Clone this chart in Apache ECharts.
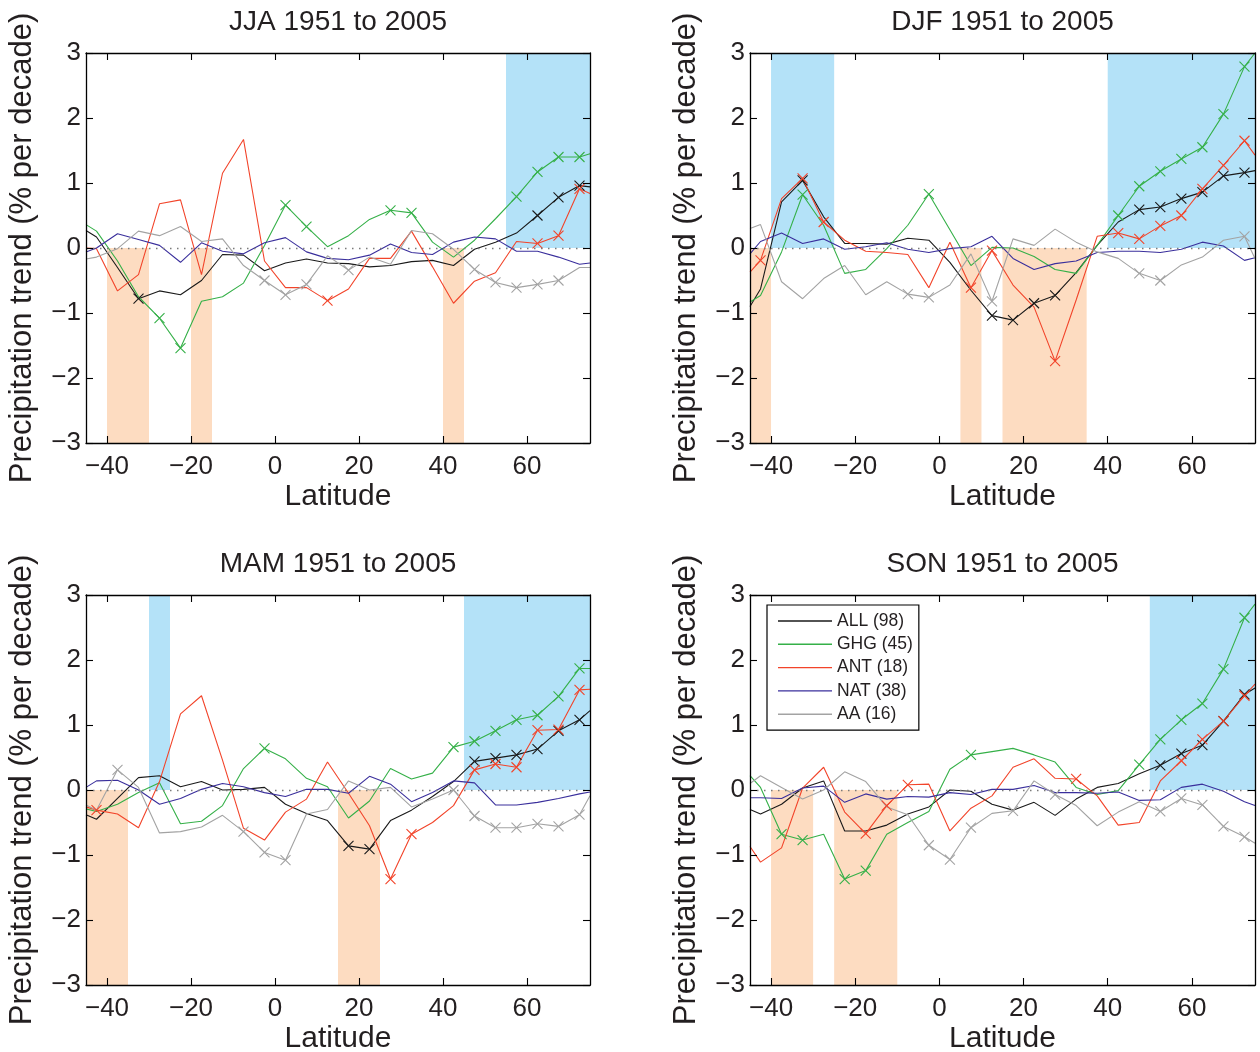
<!DOCTYPE html>
<html>
<head>
<meta charset="utf-8">
<script src="https://cdn.jsdelivr.net/npm/echarts@6/dist/echarts.min.js"></script>
<style>html,body{margin:0;padding:0;background:#fff}#c{width:1260px;height:1052px}</style>
</head>
<body>
<div id="c"></div>
<script>
// Latitude positions (edge points at -45 and 75 are where the lines meet the frame)
const LATS = [-45, -42.5, -37.5, -32.5, -27.5, -22.5, -17.5, -12.5, -7.5, -2.5, 2.5, 7.5, 12.5,
  17.5, 22.5, 27.5, 32.5, 37.5, 42.5, 47.5, 52.5, 57.5, 62.5, 67.5, 72.5, 75];
const X_TICKS = [-40, -20, 0, 20, 40, 60];
const Y_TICKS = [-3, -2, -1, 0, 1, 2, 3];
const SERIES_NAMES = ['ALL (98)', 'GHG (45)', 'ANT (18)', 'NAT (38)', 'AA (16)'];
const PANEL_TITLES = ['JJA 1951 to 2005', 'DJF 1951 to 2005', 'MAM 1951 to 2005', 'SON 1951 to 2005'];

// ---- JJA ----
const JJA_ALL = [0.27, 0.17, -0.30, -0.78, -0.66, -0.72, -0.50, -0.10, -0.11, -0.35, -0.23, -0.17, -0.23, -0.24, -0.29, -0.27, -0.21, -0.19, -0.27, -0.02, 0.09, 0.23, 0.50, 0.78, 0.96, 0.94];
const JJA_GHG = [0.36, 0.26, -0.20, -0.75, -1.08, -1.54, -0.82, -0.75, -0.54, 0.04, 0.66, 0.33, 0.02, 0.19, 0.44, 0.58, 0.54, 0.09, -0.14, 0.12, 0.45, 0.79, 1.17, 1.40, 1.40, 1.45];
const JJA_ANT = [0.00, -0.01, -0.66, -0.41, 0.68, 0.74, -0.41, 1.15, 1.67, -0.20, -0.61, -0.61, -0.81, -0.63, -0.16, -0.16, 0.26, -0.29, -0.85, -0.51, -0.38, 0.10, 0.07, 0.19, 0.91, 0.84];
const JJA_NAT = [-0.06, 0.00, 0.22, 0.13, 0.04, -0.22, 0.08, -0.05, -0.09, 0.08, 0.16, -0.06, -0.16, -0.18, -0.11, 0.06, -0.07, -0.10, 0.09, 0.17, 0.14, -0.05, -0.05, -0.14, -0.25, -0.23];
const JJA_AA  = [-0.17, -0.14, -0.01, 0.26, 0.19, 0.33, 0.10, 0.14, -0.27, -0.50, -0.72, -0.56, -0.12, -0.34, -0.14, -0.25, 0.27, 0.22, -0.02, -0.33, -0.53, -0.61, -0.56, -0.50, -0.30, -0.30];
const JJA_SIG = [[-32.5, 62.5, 67.5, 72.5], [-27.5, -22.5, 2.5, 7.5, 27.5, 32.5, 57.5, 62.5, 67.5, 72.5], [12.5, 62.5, 67.5, 72.5], [], [-2.5, 2.5, 7.5, 17.5, 47.5, 52.5, 57.5, 62.5, 67.5]];
const JJA_DRY = [[-40, -30], [-20, -15], [40, 45]];
const JJA_WET = [[55, 75]];

// ---- DJF ----
const DJF_ALL = [-0.90, -0.63, 0.71, 1.04, 0.48, 0.07, 0.07, 0.06, 0.15, 0.12, -0.22, -0.65, -1.04, -1.11, -0.85, -0.73, -0.38, 0.04, 0.40, 0.59, 0.63, 0.76, 0.86, 1.11, 1.16, 1.19];
const DJF_GHG = [-0.83, -0.73, -0.06, 0.82, 0.35, -0.39, -0.33, -0.01, 0.35, 0.83, 0.28, -0.27, 0.01, 0.00, -0.13, -0.33, -0.39, 0.04, 0.50, 0.95, 1.18, 1.37, 1.55, 2.06, 2.79, 3.00];
const DJF_ANT = [-0.37, -0.19, 0.76, 1.07, 0.40, 0.12, -0.05, -0.07, -0.10, -0.61, 0.09, -0.61, -0.04, -0.57, -0.91, -1.74, -0.80, 0.18, 0.23, 0.14, 0.34, 0.50, 0.91, 1.27, 1.65, 1.43];
const DJF_NAT = [-0.09, 0.10, 0.23, 0.07, 0.14, -0.02, 0.02, 0.08, -0.02, -0.07, -0.01, 0.02, 0.18, -0.16, -0.33, -0.24, -0.20, -0.07, -0.05, -0.05, -0.07, -0.02, 0.09, 0.03, -0.19, -0.15];
const DJF_AA  = [0.30, 0.36, -0.52, -0.78, -0.47, -0.27, -0.72, -0.52, -0.71, -0.76, -0.57, -0.09, -0.82, 0.14, 0.04, 0.29, 0.09, -0.06, -0.16, -0.39, -0.50, -0.26, -0.14, 0.12, 0.18, -0.16];
const DJF_SIG = [[-32.5, 12.5, 17.5, 22.5, 27.5, 47.5, 52.5, 57.5, 62.5, 67.5, 72.5], [-32.5, -2.5, 42.5, 47.5, 52.5, 57.5, 62.5, 67.5, 72.5], [-42.5, -32.5, -27.5, 7.5, 12.5, 27.5, 42.5, 47.5, 52.5, 57.5, 62.5, 67.5, 72.5], [], [-7.5, -2.5, 12.5, 47.5, 52.5, 72.5]];
const DJF_DRY = [[-45, -40], [5, 10], [15, 35]];
const DJF_WET = [[-40, -25], [40, 75]];

// ---- MAM ----
const MAM_ALL = [-0.38, -0.45, -0.13, 0.19, 0.22, 0.05, 0.13, 0.00, 0.01, 0.04, -0.22, -0.36, -0.47, -0.86, -0.91, -0.47, -0.31, -0.10, 0.13, 0.44, 0.49, 0.54, 0.63, 0.91, 1.08, 1.22];
const MAM_GHG = [-0.29, -0.33, -0.22, -0.04, 0.11, -0.52, -0.48, -0.24, 0.33, 0.64, 0.48, 0.18, 0.05, -0.43, -0.17, 0.33, 0.17, 0.26, 0.66, 0.75, 0.91, 1.08, 1.15, 1.44, 1.87, 1.87];
const MAM_ANT = [-0.26, -0.31, -0.37, -0.58, 0.13, 1.17, 1.45, 0.46, -0.59, -0.77, -0.34, -0.14, 0.43, -0.05, -0.55, -1.37, -0.68, -0.50, -0.24, 0.31, 0.40, 0.35, 0.92, 0.93, 1.54, 1.55];
const MAM_NAT = [0.04, 0.14, 0.15, 0.00, -0.22, -0.13, 0.01, 0.10, 0.05, -0.04, -0.10, 0.01, 0.01, -0.05, 0.21, 0.09, -0.18, -0.04, 0.14, 0.11, -0.23, -0.23, -0.19, -0.13, -0.06, -0.03];
const MAM_AA  = [-0.23, -0.31, 0.31, 0.04, -0.66, -0.64, -0.57, -0.39, -0.64, -0.96, -1.08, -0.37, -0.30, 0.14, 0.00, 0.04, -0.26, -0.14, 0.00, -0.40, -0.58, -0.58, -0.52, -0.56, -0.38, -0.09];
const MAM_SIG = [[17.5, 22.5, 47.5, 52.5, 57.5, 62.5, 67.5, 72.5], [-2.5, 42.5, 47.5, 52.5, 57.5, 62.5, 67.5, 72.5], [-42.5, 27.5, 32.5, 47.5, 52.5, 57.5, 62.5, 67.5, 72.5], [], [-37.5, -7.5, -2.5, 2.5, 42.5, 47.5, 52.5, 57.5, 62.5, 67.5, 72.5]];
const MAM_DRY = [[-45, -35], [15, 25]];
const MAM_WET = [[-30, -25], [45, 75]];

// ---- SON ----
const SON_ALL = [-0.30, -0.37, -0.22, 0.03, 0.14, -0.63, -0.63, -0.54, -0.37, -0.26, 0.00, -0.02, -0.22, -0.31, -0.19, -0.39, -0.14, 0.04, 0.10, 0.25, 0.38, 0.56, 0.69, 1.06, 1.47, 1.57];
const SON_GHG = [0.22, 0.04, -0.68, -0.77, -0.68, -1.37, -1.24, -0.68, -0.50, -0.33, 0.32, 0.54, 0.59, 0.64, 0.54, 0.43, 0.04, -0.07, -0.01, 0.39, 0.78, 1.08, 1.33, 1.86, 2.65, 2.86];
const SON_ANT = [-0.87, -1.11, -0.89, 0.03, 0.35, -0.34, -0.67, -0.24, 0.08, 0.09, -0.63, -0.28, -0.09, 0.35, 0.48, 0.18, 0.17, -0.09, -0.54, -0.50, 0.14, 0.45, 0.78, 1.06, 1.45, 1.63];
const SON_NAT = [-0.12, -0.12, -0.13, 0.03, 0.06, -0.19, -0.06, -0.14, -0.10, -0.11, -0.04, -0.07, 0.01, 0.01, 0.07, -0.04, -0.04, -0.05, -0.03, -0.16, -0.15, 0.04, 0.09, -0.02, -0.18, -0.24];
const SON_AA  = [0.10, 0.22, 0.04, -0.14, 0.00, 0.28, 0.13, -0.26, -0.38, -0.85, -1.07, -0.58, -0.36, -0.32, 0.14, -0.07, -0.24, -0.55, -0.34, -0.18, -0.33, -0.13, -0.23, -0.56, -0.72, -0.82];
const SON_SIG = [[52.5, 57.5, 62.5, 67.5, 72.5], [-37.5, -32.5, -22.5, -17.5, 7.5, 47.5, 52.5, 57.5, 62.5, 67.5, 72.5], [-17.5, -12.5, -7.5, 32.5, 57.5, 62.5, 67.5, 72.5], [], [-2.5, 2.5, 7.5, 17.5, 27.5, 52.5, 57.5, 62.5, 67.5, 72.5]];
const SON_DRY = [[-40, -30], [-25, -10]];
const SON_WET = [[50, 75]];

// ---------- presentation ----------
const PANELS = [
  {vals: [JJA_ALL, JJA_GHG, JJA_ANT, JJA_NAT, JJA_AA], sig: JJA_SIG, dry: JJA_DRY, wet: JJA_WET},
  {vals: [DJF_ALL, DJF_GHG, DJF_ANT, DJF_NAT, DJF_AA], sig: DJF_SIG, dry: DJF_DRY, wet: DJF_WET},
  {vals: [MAM_ALL, MAM_GHG, MAM_ANT, MAM_NAT, MAM_AA], sig: MAM_SIG, dry: MAM_DRY, wet: MAM_WET},
  {vals: [SON_ALL, SON_GHG, SON_ANT, SON_NAT, SON_AA], sig: SON_SIG, dry: SON_DRY, wet: SON_WET}
];
const GRIDS = [
  {left: 86, top: 53, width: 504, height: 390},
  {left: 750, top: 53, width: 505, height: 390},
  {left: 86, top: 595, width: 504, height: 390},
  {left: 750, top: 595, width: 505, height: 390}
];
const COLORS = ['#1a1a1a', '#35b048', '#f2442a', '#3a2f9c', '#a3a3a3'];
const DRY_COLOR = '#fddcc1';
const WET_COLOR = '#b4e2f8';
const FONT = '"Liberation Sans", Arial, Helvetica, sans-serif';
const TXT = '#231f20';
const X_PATH = 'path://M0,0L10,10M10,0L0,10';
const fmt = v => (v < 0 ? '\u2212' + (-v) : '' + v);

const option = {
  animation: false,
  backgroundColor: '#fff',
  textStyle: {fontFamily: FONT},
  grid: GRIDS.map(g => Object.assign({outerBoundsMode: 'none', containLabel: false}, g)),
  xAxis: [], yAxis: [], series: [], graphic: [],
  legend: {
    data: SERIES_NAMES.map(n => ({name: n, icon: 'rect'})),
    orient: 'vertical', left: 767, top: 605,
    itemWidth: 54, itemHeight: 1.4, itemGap: 3.3,
    padding: [6, 6, 6, 11],
    borderColor: '#000', borderWidth: 1.2, backgroundColor: '#fff',
    selectedMode: false,
    itemStyle: {borderWidth: 0},
    textStyle: {fontSize: 17.5, color: TXT, fontFamily: FONT, lineHeight: 20}
  }
};

PANELS.forEach((p, k) => {
  const axisLine = {show: true, onZero: false, lineStyle: {color: '#000', width: 1.3}};
  const tick = {show: true, inside: true, length: 7, lineStyle: {color: '#000', width: 1.1}};
  option.xAxis.push({
    gridIndex: k, type: 'value', min: -45, max: 75, position: 'bottom', z: 10,
    axisLine, axisTick: Object.assign({customValues: X_TICKS}, tick), splitLine: {show: false},
    axisLabel: {customValues: X_TICKS, formatter: fmt, fontSize: 26, color: TXT, margin: 11, fontFamily: FONT},
    name: 'Latitude', nameLocation: 'middle', nameGap: 39,
    nameTextStyle: {fontSize: 30, color: TXT, fontFamily: FONT}
  });
  option.xAxis.push({
    gridIndex: k, type: 'value', min: -45, max: 75, position: 'top', z: 10,
    axisLine, axisTick: Object.assign({customValues: X_TICKS}, tick), splitLine: {show: false},
    axisLabel: {show: false}
  });
  option.yAxis.push({
    gridIndex: k, type: 'value', min: -3, max: 3, interval: 1, position: 'left', z: 10,
    axisLine, axisTick: tick, splitLine: {show: false},
    axisLabel: {formatter: fmt, fontSize: 26, color: TXT, margin: 5, fontFamily: FONT},
    name: 'Precipitation trend (% per decade)', nameLocation: 'middle', nameGap: 48,
    nameTextStyle: {fontSize: 31, color: TXT, fontFamily: FONT}
  });
  option.yAxis.push({
    gridIndex: k, type: 'value', min: -3, max: 3, interval: 1, position: 'right', z: 10,
    axisLine, axisTick: tick, splitLine: {show: false}, axisLabel: {show: false}
  });
  const xi = 2 * k, yi = 2 * k;
  // shading
  option.series.push({
    type: 'line', xAxisIndex: xi, yAxisIndex: yi, data: [], silent: true, z: 1,
    markArea: {
      silent: true,
      data: p.dry.map(r => [{coord: [r[0], 0], itemStyle: {color: DRY_COLOR}}, {coord: [r[1], -3]}])
        .concat(p.wet.map(r => [{coord: [r[0], 0], itemStyle: {color: WET_COLOR}}, {coord: [r[1], 3]}]))
    }
  });
  // zero dotted line
  option.series.push({
    type: 'line', xAxisIndex: xi, yAxisIndex: yi, data: [], silent: true, z: 2,
    markLine: {
      silent: true, symbol: ['none', 'none'], label: {show: false},
      lineStyle: {color: '#7a7a7a', type: [1.5, 5.5], width: 1.3},
      data: [{yAxis: 0}]
    }
  });
  p.vals.forEach((vals, s) => {
    const c = COLORS[s];
    option.series.push({
      type: 'line', name: SERIES_NAMES[s], xAxisIndex: xi, yAxisIndex: yi, z: 3,
      symbol: X_PATH, symbolSize: 10, showSymbol: true, showAllSymbol: true,
      lineStyle: {color: c, width: 1.1}, itemStyle: {color: c, borderColor: c, borderWidth: 1.1},
      emphasis: {disabled: true}, silent: true,
      data: LATS.map((x, i) => ({value: [x, vals[i]], symbol: p.sig[s].indexOf(x) >= 0 ? X_PATH : 'none'}))
    });
  });
  const g = GRIDS[k];
  option.graphic.push({
    type: 'text', x: g.left + g.width / 2, y: g.top - 31, z: 20,
    style: {text: PANEL_TITLES[k], fontSize: 28, fontFamily: FONT, fill: TXT, align: 'center', verticalAlign: 'middle'}
  });
});

const chart = echarts.init(document.getElementById('c'), null, {renderer: 'canvas'});
chart.setOption(option);
</script>
</body>
</html>
